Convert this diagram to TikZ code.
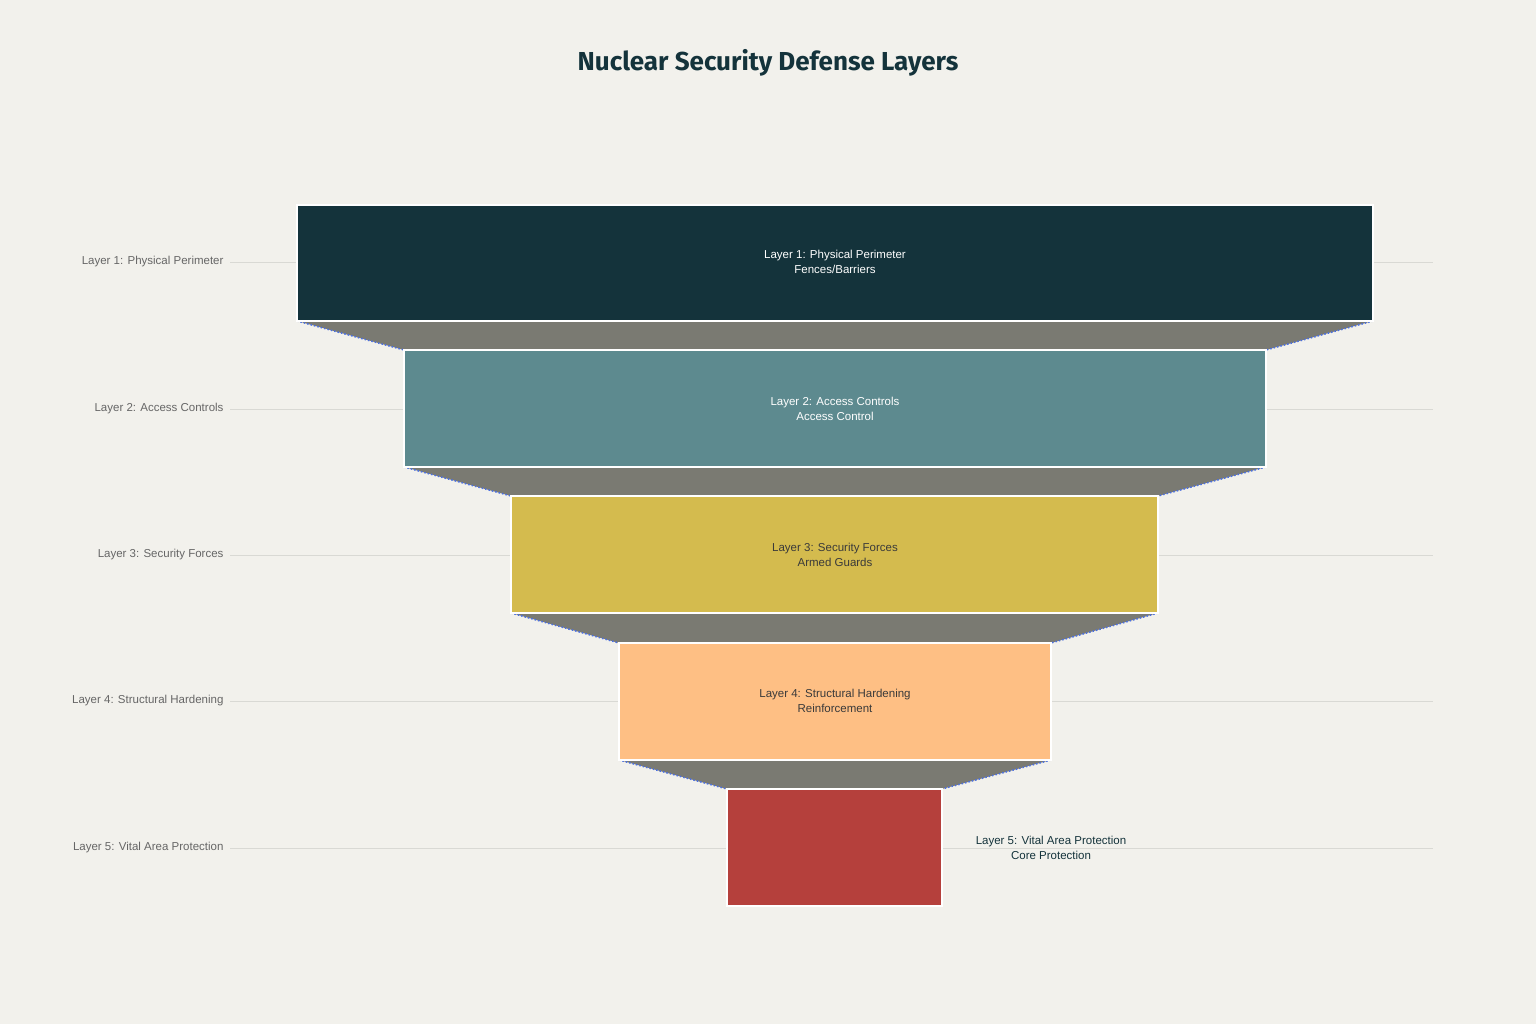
\documentclass[tikz,border=0pt]{standalone}
\usepackage{fontspec}
\setmainfont{Liberation Sans}
\newfontfamily\titlefont{Fira Sans}
\definecolor{bg}{HTML}{F2F1EC}
\definecolor{c1}{HTML}{14333B}
\definecolor{c2}{HTML}{5D8A8F}
\definecolor{c3}{HTML}{D4BB4E}
\definecolor{c4}{HTML}{FEBF84}
\definecolor{c5}{HTML}{B5403C}
\definecolor{conn}{HTML}{7A7A72}
\definecolor{grid}{HTML}{D9D9D4}
\definecolor{lbl}{HTML}{666666}
\definecolor{dk}{HTML}{3A3A3A}
\definecolor{blu}{HTML}{4A6FE3}
\begin{document}
\begin{tikzpicture}[x=1pt,y=-1pt,
  bar/.style={draw=white,line width=1.5pt},
  side/.style={blu,dotted,line width=1.5pt},
  ltxt/.style={anchor=east,text=lbl,font=\fontsize{11.5}{14}\selectfont},
  btxt/.style={align=center,font=\fontsize{11.5}{15}\selectfont}]
\fill[bg] (0,0) rectangle (1536,1024);
\useasboundingbox (0,0) rectangle (1536,1024);
\node[font=\titlefont\bfseries\fontsize{26}{30}\selectfont,text=c1] (title) at (768,63) {Nuclear Security Defense Layers};
% grid lines
\foreach \y/\t [count=\i] in {262/Layer 1: Physical Perimeter,409/Layer 2: Access Controls,555/Layer 3: Security Forces,701/Layer 4: Structural Hardening,848/Layer 5: Vital Area Protection}{
  \draw[grid,line width=0.8pt] (230,\y) -- (1433,\y);
  \node[ltxt] (l\i) at (227,\y) {\t};
}
% connectors
\foreach \xa/\xb/\ya/\xc/\xd/\yb in {297/1373/321/404/1266/350, 404/1266/467/511/1158/496, 511/1158/613/619/1051/643, 619/1051/760/727/942/789}{
  \fill[conn] (\xa,\ya) -- (\xb,\ya) -- (\xd,\yb) -- (\xc,\yb) -- cycle;
  \draw[side] (\xa,\ya) -- (\xc,\yb);
  \draw[side] (\xb,\ya) -- (\xd,\yb);
}
\draw[bar,fill=c1] (297,205) rectangle (1373,321);
\draw[bar,fill=c2] (404,350) rectangle (1266,467);
\draw[bar,fill=c3] (511,496) rectangle (1158,613);
\draw[bar,fill=c4] (619,643) rectangle (1051,760);
\draw[bar,fill=c5] (727,789) rectangle (942,906);
\node[btxt,text=white] (b1) at (835,262) {Layer 1: Physical Perimeter\\Fences/Barriers};
\node[btxt,text=white] (b2) at (835,409) {Layer 2: Access Controls\\Access Control};
\node[btxt,text=dk] (b3) at (835,555) {Layer 3: Security Forces\\Armed Guards};
\node[btxt,text=dk] (b4) at (835,701) {Layer 4: Structural Hardening\\Reinforcement};
\node[btxt,text=c1] (b5) at (1051,848) {Layer 5: Vital Area Protection\\Core Protection};
\end{tikzpicture}
\end{document}
